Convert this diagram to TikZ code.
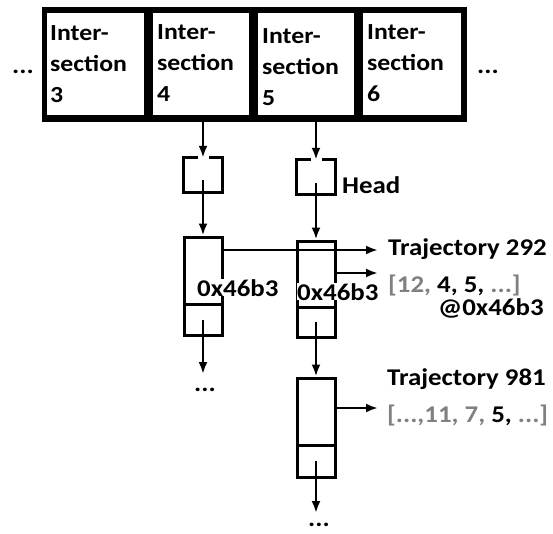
\documentclass[tikz,border=0pt]{standalone}
\usepackage{fontspec}
\setmainfont{Carlito}[FakeStretch=1.12]
\usetikzlibrary{arrows.meta}
\definecolor{txtgray}{RGB}{128,128,128}
\tikzset{
  lbl/.style={font=\fontsize{24}{28}\selectfont\bfseries, inner sep=0pt, anchor=base west},
  addr/.style={lbl, fill=white},
  ptr/.style={line width=2.8pt, -{Latex[length=12pt,width=9pt]}},
  box/.style={line width=3pt},
  nodebox/.style={draw=black, box, inner sep=0pt, minimum width=38pt},
  hidden/.style={inner sep=0pt, minimum width=38pt, minimum height=34pt},
  cellbox/.style={fill=white, draw=black, line width=0.8pt, inner sep=0pt, anchor=north west, minimum height=103pt},
  celltxt/.style={font=\fontsize{23}{31}\selectfont\bfseries, align=left, inner sep=0pt, anchor=north west},
}
\begin{document}
\begin{tikzpicture}[x=1pt,y=-1pt]
\useasboundingbox[fill=white] (0,0) rectangle (553,533);

% array of intersections
\node[fill=black, inner sep=0pt, anchor=north west, minimum width=425pt, minimum height=115pt] (arr) at (42,7) {};
\node[cellbox, minimum width=98pt] (c3) at (46,12) {};
\node[cellbox, minimum width=97pt] (c4) at (152,12) {};
\node[cellbox, minimum width=97pt] (c5) at (257,12) {};
\node[cellbox, minimum width=99pt] (c6) at (362,12) {};
\node[celltxt] (t3) at (50,25) {Inter-\\section\\3};
\node[celltxt] (t4) at (157,24) {Inter-\\section\\4};
\node[celltxt] (t5) at (262,28) {Inter-\\section\\5};
\node[celltxt] (t6) at (367,24) {Inter-\\section\\6};
\node[lbl] (dl) at (12,73) {...};
\node[lbl] (dr) at (477,73) {...};

% head boxes
\node[hidden] (hb4) at (203,175) {};
\node[hidden] (hb5) at (316,177) {};
\draw[box] ([xshift=-5.5pt]hb4.north) -- (hb4.north west) -- (hb4.south west) -- (hb4.south east) -- (hb4.north east) -- ([xshift=5.5pt]hb4.north);
\draw[box] ([xshift=-5.5pt]hb5.north) -- (hb5.north west) -- (hb5.south west) -- (hb5.south east) -- (hb5.north east) -- ([xshift=5.5pt]hb5.north);
\node[lbl] (head) at (342,193) {Head};

% list nodes
\node[nodebox, minimum height=98pt] (n4) at (203,286) {};
\node[nodebox, minimum height=96pt] (n5) at (316,289) {};
\node[nodebox, minimum height=99pt] (n6) at (316,427.5) {};
\draw[box] ([yshift=32pt]n4.south west) -- ([yshift=32pt]n4.south east);
\draw[box] ([yshift=31pt]n5.south west) -- ([yshift=31pt]n5.south east);
\draw[box] ([yshift=33pt]n6.south west) -- ([yshift=33pt]n6.south east);

% connectors from array to heads
\draw[ptr] (arr.south -| hb4.north) -- (hb4.north);
\draw[ptr] (arr.south -| hb5.north) -- (hb5.north);
% heads to first nodes
\draw[ptr] ([yshift=-5pt]hb4.center) -- (n4.north);
\draw[ptr] ([yshift=-6pt]hb5.center) -- (n5.north);
% next pointers
\coordinate (e4) at (203,374);
\coordinate (e6) at (316,513);
\draw[ptr] ([yshift=17pt]n4.south) -- (e4);
\draw[ptr] ([yshift=17pt]n5.south) -- (n6.north);
\draw[ptr] ([yshift=18pt]n6.south) -- (e6);
\node[lbl] (dots4) at (194,391) {...};
\node[lbl] (dots6) at (308,526) {...};

% trajectory labels
\node[lbl] (tr292) at (388,255) {Trajectory 292};
\node[lbl] (seq292) at (388,292) {\textcolor{txtgray}{[12, }4, 5, \textcolor{txtgray}{...]}};
\node[lbl] (at292) at (438,315) {@0x46b3};
\node[lbl] (tr981) at (387,385) {Trajectory 981};
\node[lbl] (seq981) at (387,422) {\textcolor{txtgray}{[...,11, 7, }5, \textcolor{txtgray}{...]}};

\coordinate (p292) at (378,250);
\coordinate (q292) at (378,273);
\coordinate (p981) at (378,408);
\draw[ptr] (n4.east |- p292) -- (p292);
\draw[ptr] (n5.east |- q292) -- (q292);
\draw[ptr] (n6.east |- p981) -- (p981);

% address labels
\node[addr] (a4) at (197,296) {0x46b3};
\node[addr] (a5) at (297,300) {0x46b3};
\end{tikzpicture}
\end{document}
